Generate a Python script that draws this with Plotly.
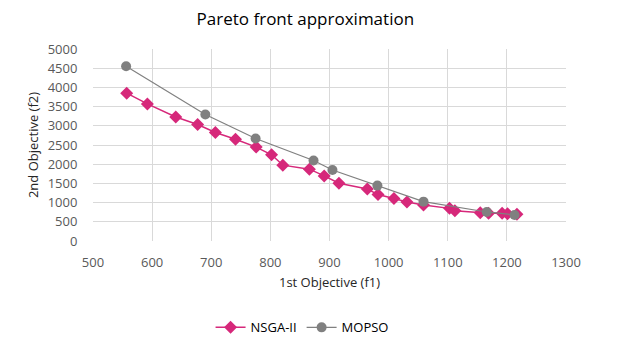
import plotly.graph_objects as go

nsga_f1 = [557, 592, 640, 677, 707, 741, 776, 802, 821, 866, 891, 916, 964, 982, 1009, 1031, 1059, 1103, 1112, 1155, 1169, 1192, 1201, 1217]
nsga_f2 = [3850, 3570, 3230, 3035, 2825, 2650, 2445, 2245, 1975, 1870, 1695, 1505, 1355, 1210, 1105, 1017, 940, 850, 790, 738, 725, 720, 712, 695]

mopso_f1 = [556, 690, 775, 873, 905, 981, 1059, 1166, 1213]
mopso_f2 = [4550, 3295, 2670, 2095, 1850, 1443, 1025, 756, 678]

x_ticks = [500, 600, 700, 800, 900, 1000, 1100, 1200, 1300]
y_ticks = [0, 500, 1000, 1500, 2000, 2500, 3000, 3500, 4000, 4500, 5000]

font_family = "Open Sans, Liberation Sans, sans-serif"

fig = go.Figure()
fig.add_trace(go.Scatter(
    x=nsga_f1, y=nsga_f2, mode="lines+markers", name="NSGA-II",
    line=dict(color="#D6287A", width=1.5),
    marker=dict(symbol="diamond", size=10, color="#D6287A"),
))
fig.add_trace(go.Scatter(
    x=mopso_f1, y=mopso_f2, mode="lines+markers", name="MOPSO",
    line=dict(color="#808080", width=1.2),
    marker=dict(symbol="circle", size=10, color="#808080"),
))

fig.update_layout(
    width=627, height=350,
    margin=dict(l=93, r=61, t=49, b=109, autoexpand=False),
    paper_bgcolor="white", plot_bgcolor="white",
    font=dict(family=font_family, color="#595959", size=13),
    title=dict(text="Pareto front approximation", x=0.487, xanchor="center",
               y=1 - 19 / 350, yanchor="middle",
               font=dict(size=17, color="#000000", family=font_family)),
    showlegend=True,
    legend=dict(orientation="h", x=0.442, xanchor="center", y=-0.45, yanchor="middle",
                font=dict(size=13, color="#000000")),
    xaxis=dict(range=[500, 1300], tickvals=x_ticks, showgrid=True, gridcolor="#D9D9D9",
               gridwidth=1, zeroline=False, showline=False, automargin=False,
               ticks="outside", ticklen=9, tickcolor="rgba(0,0,0,0)",
               title=dict(text="1st Objective (f1)", font=dict(size=13, color="#262626"), standoff=8),
               tickfont=dict(size=13, color="#595959")),
    yaxis=dict(range=[0, 5000], tickvals=y_ticks, showgrid=True, gridcolor="#D9D9D9",
               gridwidth=1, zeroline=False, showline=False, automargin=False,
               ticks="outside", ticklen=12, tickcolor="rgba(0,0,0,0)",
               title=dict(text="2nd Objective (f2)", font=dict(size=13, color="#262626"), standoff=6),
               tickfont=dict(size=13, color="#595959")),
)

fig.write_html("out.html")
